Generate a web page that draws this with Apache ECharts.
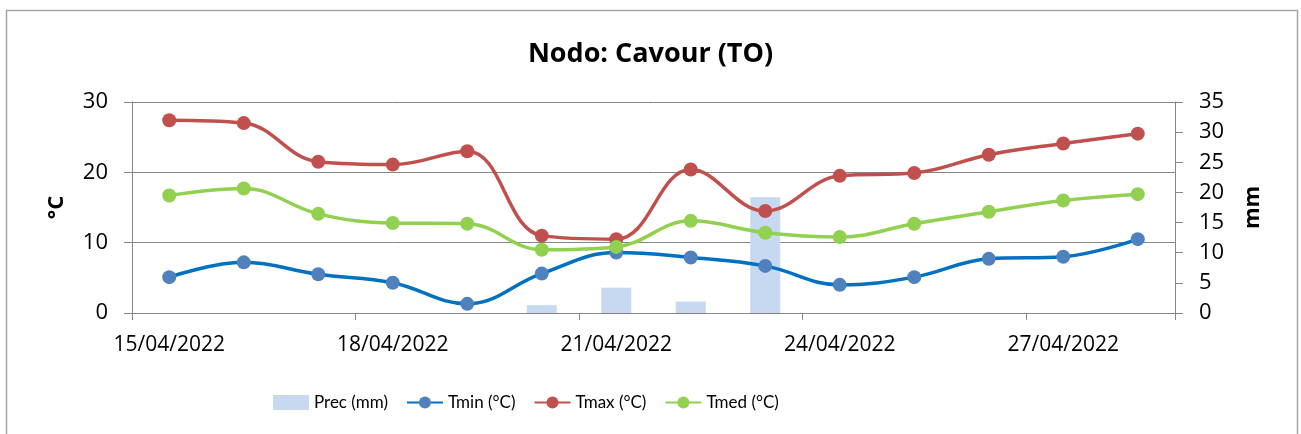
<!DOCTYPE html>
<html>
<head>
<meta charset="utf-8">
<script src="https://cdn.jsdelivr.net/npm/echarts@6/dist/echarts.min.js"></script>
<style>
html,body{margin:0;padding:0;background:#fff;}
#c{width:1301px;height:434px;}
</style>
</head>
<body>
<div id="c"></div>
<script>
const dates = ['15/04/2022','16/04/2022','17/04/2022','18/04/2022','19/04/2022','20/04/2022','21/04/2022',
               '22/04/2022','23/04/2022','24/04/2022','25/04/2022','26/04/2022','27/04/2022','28/04/2022'];
const prec = [0, 0, 0, 0, 0, 1.3, 4.2, 1.9, 19.2, 0, 0, 0, 0, 0];
const tmin = [5.1, 7.2, 5.5, 4.3, 1.3, 5.6, 8.6, 7.9, 6.7, 4.0, 5.1, 7.7, 8.0, 10.5];
const tmax = [27.4, 27.0, 21.5, 21.1, 23.0, 11.0, 10.5, 20.4, 14.5, 19.5, 19.9, 22.5, 24.1, 25.5];
const tmed = [16.7, 17.7, 14.1, 12.8, 12.7, 9.0, 9.4, 13.1, 11.4, 10.8, 12.7, 14.4, 16.0, 16.9];
const leftTicks = [0, 10, 20, 30];
const rightTicks = [0, 5, 10, 15, 20, 25, 30, 35];

const FONT = '"Open Sans", "Noto Sans", sans-serif';
const LFONT = 'Lato, "Open Sans", sans-serif';
const GRAY = '#868686';

const chart = echarts.init(document.getElementById('c'), null, {renderer: 'canvas'});
const lineSeries = (name, data, lineColor, markerColor) => ({
  name: name,
  type: 'line',
  yAxisIndex: 0,
  data: data,
  smooth: 0.4,
  symbol: 'circle',
  symbolSize: 14,
  lineStyle: {color: lineColor, width: 3.5},
  itemStyle: {color: markerColor, borderWidth: 0},
  z: 3
});
chart.setOption({
  animation: false,
  backgroundColor: '#ffffff',
  textStyle: {fontFamily: FONT},
  graphic: [{
    type: 'rect', silent: true, z: -10,
    shape: {x: 6.5, y: 10.5, width: 1291, height: 440},
    style: {fill: 'none', stroke: '#a6a6a6', lineWidth: 1.5}
  }],
  title: {
    text: 'Nodo: Cavour (TO)',
    left: 'center',
    top: 36,
    textStyle: {fontFamily: FONT, fontWeight: 'bold', fontSize: 27, color: '#000'}
  },
  legend: {
    left: 268,
    top: 389,
    itemWidth: 36,
    itemHeight: 15,
    itemGap: 18,
    textStyle: {fontFamily: LFONT, fontSize: 17, color: '#000'},
    data: [
      {name: 'Prec (mm)', icon: 'rect'},
      {name: 'Tmin (°C)'},
      {name: 'Tmax (°C)'},
      {name: 'Tmed (°C)'}
    ]
  },
  grid: {left: 132, right: 126, top: 102, bottom: 121},
  xAxis: {
    type: 'category',
    data: dates,
    boundaryGap: true,
    axisLine: {lineStyle: {color: GRAY, width: 1}},
    axisTick: {show: true, interval: 2, length: 7, lineStyle: {color: GRAY}},
    axisLabel: {interval: 2, margin: 22, fontFamily: FONT, fontSize: 21, color: '#000'},
    splitLine: {show: false}
  },
  yAxis: [{
    type: 'value',
    min: leftTicks[0], max: leftTicks[leftTicks.length - 1], interval: 10,
    name: '°C',
    nameLocation: 'middle',
    nameRotate: 90,
    nameGap: 64,
    nameTextStyle: {fontFamily: FONT, fontWeight: 'bold', fontSize: 22, color: '#000'},
    axisLine: {show: true, lineStyle: {color: GRAY}},
    axisTick: {show: true, length: 8, lineStyle: {color: GRAY}},
    axisLabel: {margin: 24, fontFamily: FONT, fontSize: 22, color: '#000'},
    splitLine: {show: true, lineStyle: {color: GRAY, width: 1}}
  }, {
    type: 'value',
    position: 'right',
    min: rightTicks[0], max: rightTicks[rightTicks.length - 1], interval: 5,
    name: 'mm',
    nameLocation: 'middle',
    nameRotate: 90,
    nameGap: 67,
    nameTextStyle: {fontFamily: FONT, fontWeight: 'bold', fontSize: 22, color: '#000'},
    axisLine: {show: true, lineStyle: {color: GRAY}},
    axisTick: {show: true, length: 8, lineStyle: {color: GRAY}},
    axisLabel: {margin: 24, fontFamily: FONT, fontSize: 22, color: '#000'},
    splitLine: {show: false}
  }],
  series: [
    {
      name: 'Prec (mm)',
      type: 'bar',
      yAxisIndex: 1,
      data: prec,
      barWidth: 30,
      itemStyle: {color: '#c6d9f1'},
      z: 1
    },
    lineSeries('Tmin (°C)', tmin, '#0070c0', '#4f81bd'),
    lineSeries('Tmax (°C)', tmax, '#c0504d', '#c0504d'),
    lineSeries('Tmed (°C)', tmed, '#92d050', '#92d050')
  ]
});
</script>
</body>
</html>
